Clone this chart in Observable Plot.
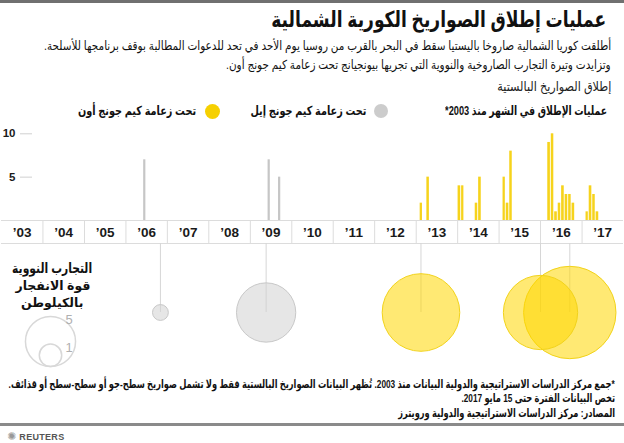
<!DOCTYPE html>
<html><head><meta charset="utf-8">
<script src="https://cdn.jsdelivr.net/npm/d3@7"></script>
<script src="https://cdn.jsdelivr.net/npm/@observablehq/plot@0.6"></script>
<style>
body{margin:0;background:#fff;}
#root{position:relative;width:624px;height:443px;overflow:hidden;font-family:"Liberation Sans","DejaVu Sans",sans-serif;color:#111;}
.t{position:absolute;direction:rtl;white-space:nowrap;}
.abs{position:absolute;}
</style></head><body><div id="root"></div>
<script>
// ---- data ----
const years = [2003,2004,2005,2006,2007,2008,2009,2010,2011,2012,2013,2014,2015,2016,2017];
const yearLabels = ["’03","’04","’05","’06","’07","’08","’09","’10","’11","’12","’13","’14","’15","’16","’17"];
const kimJongIlMonths = ["2006-06","2009-06","2009-09"];
const kimJongIlLaunches = [7,7,5];
const kimJongUnMonths = ["2013-02","2013-04","2014-01","2014-02","2014-06","2014-07","2015-02","2015-03","2015-04","2016-03","2016-04","2016-05","2016-06","2016-07","2016-08","2016-09","2016-10","2017-02","2017-03","2017-04","2017-05"];
const kimJongUnLaunches = [2,5,4,4,2,5,5,2,8,9,10,1,2,4,3,3,2,1,4,3,1];
const testDates = ["2006-11-01","2009-05-20","2013-02-12","2016-01-01","2016-09-15"];
const testYieldsKt = [0.5,7,12,11,17];
const testLeader = ["il","il","un","un","un"];
const legendKt = [5,1];

// ---- styles ----
const YELLOW = "#f6d31c", GRAY = "#c6c6c6";
const FONT = "'Liberation Sans','DejaVu Sans',sans-serif";

const root = document.getElementById("root");
function addText(html, css){ const d=document.createElement("div"); d.className="t"; d.innerHTML=html; Object.assign(d.style, css); root.appendChild(d); return d; }
function addBox(css){ const d=document.createElement("div"); d.className="abs"; Object.assign(d.style, css); root.appendChild(d); return d; }
// squeeze a group of lines horizontally so the first one has the wanted width
function fitGroup(els, target, origin){
  const f = Math.min(1.15, target / els[0].getBoundingClientRect().width);
  els.forEach(el=>{ el.style.transformOrigin = origin || "right center"; el.style.transform = `scaleX(${f})`; });
}
function centerAt(el, cx){ const w = el.getBoundingClientRect().width; el.style.left = (cx - w/2) + "px"; }

addBox({left:"0",top:"0",width:"624px",height:"3px",background:"#707070"});
const title = addText("عمليات إطلاق الصواريخ الكورية الشمالية",{right:"18px",top:"5px",fontSize:"22px",fontWeight:"bold",lineHeight:"30px"});
fitGroup([title], 335);
const sub1 = addText("أطلقت كوريا الشمالية صاروخا باليستيا سقط في البحر بالقرب من روسيا يوم الأحد في تحد للدعوات المطالبة بوقف برنامجها للأسلحة.",{right:"13px",top:"37px",fontSize:"12.5px",lineHeight:"18px"});
const sub2 = addText("وتزايدت وتيرة التجارب الصاروخية والنووية التي تجريها بيونجيانج تحت زعامة كيم جونج أون.",{right:"13px",top:"56px",fontSize:"12.5px",lineHeight:"18px"});
fitGroup([sub1, sub2], 567);
const sec = addText("إطلاق الصواريخ البالستية",{right:"13px",top:"78px",fontSize:"13px",lineHeight:"18px",color:"#222"});
fitGroup([sec], 114);
const lg0 = addText("عمليات الإطلاق في الشهر منذ 2003*",{right:"17px",top:"102px",fontSize:"12.5px",fontWeight:"bold",lineHeight:"18px"});
addBox({left:"374px",top:"104px",width:"14px",height:"14px",borderRadius:"50%",background:"#cccccc"});
const lg1 = addText("تحت زعامة كيم جونج إيل",{right:"258px",top:"102px",fontSize:"12.5px",fontWeight:"bold",lineHeight:"18px"});
addBox({left:"205px",top:"104px",width:"15px",height:"15px",borderRadius:"50%",background:"#f6d000"});
const lg2 = addText("تحت زعامة كيم جونج أون",{right:"428px",top:"102px",fontSize:"12.5px",fontWeight:"bold",lineHeight:"18px"});
fitGroup([lg0], 162);
fitGroup([lg1, lg2], 116);

// ---- launches chart ----
const toBar = (m, n, who) => { const s = d3.utcParse("%Y-%m")(m); return {start:s, end:d3.utcMonth.offset(s,1), n, who}; };
const ilBars = kimJongIlMonths.map((m,i)=>toBar(m,kimJongIlLaunches[i],"il"));
const unBars = kimJongUnMonths.map((m,i)=>toBar(m,kimJongUnLaunches[i],"un"));
const xDomain = [new Date(Date.UTC(years[0],0,1)), new Date(Date.UTC(years[years.length-1]+1,0,1))];
const yearStarts = years.slice(1).map(y=>new Date(Date.UTC(y,0,1)));
const yearMids = years.map(y=>new Date(Date.UTC(y,6,2)));
const xScale = {type:"utc", domain:xDomain, range:[1,623]};

const launches = Plot.plot({
  width:624, height:130, marginLeft:32, marginRight:0, marginTop:0, marginBottom:30,
  x: xScale,
  y: {domain:[0,10], range:[100,13.3]},
  style:{fontFamily:FONT, background:"transparent", overflow:"visible"},
  marks:[
    Plot.ruleY([0],{x1:()=>xDomain[0], x2:()=>xDomain[1], stroke:"#dcdcdc"}),
    Plot.ruleY([0],{x1:()=>xDomain[0], x2:()=>xDomain[1], stroke:"#dcdcdc", dy:23}),
    Plot.rectY(ilBars,{x1:"start", x2:"end", y:"n", fill:GRAY, insetLeft:0.6, insetRight:0.6}),
    Plot.rectY(unBars,{x1:"start", x2:"end", y:"n", fill:YELLOW, insetLeft:0.45, insetRight:0.45}),
    Plot.axisX({ticks:yearStarts, tickSize:23, tickFormat:()=>"", stroke:"#dcdcdc"}),
    Plot.axisX({ticks:yearMids, tickSize:0, tickPadding:7, tickFormat:(d)=>yearLabels[years.indexOf(d.getUTCFullYear())], fontSize:13.5, fontWeight:"bold", fill:"#1a1a1a"}),
    Plot.axisY({ticks:[5,10], tickSize:12, tickPadding:5, stroke:"#d0d0d0", fill:"#1a1a1a", fontSize:11.5, fontWeight:"bold", label:null})
  ]
});
Object.assign(launches.style,{position:"absolute",left:"0px",top:"120px"});
root.appendChild(launches);

// ---- nuclear tests ----
const tests = testDates.map((d,i)=>({date:d3.utcParse("%Y-%m-%d")(d), kt:testYieldsKt[i], who:testLeader[i]}));
const rScale = {type:"sqrt", domain:[0,1], range:[0,11.2]};
const nuclear = Plot.plot({
  width:624, height:138, margin:0,
  x: {...xScale, axis:null}, r: rScale,
  style:{background:"transparent", overflow:"visible"},
  marks:[
    Plot.ruleX(tests,{x:"date", insetBottom:69, stroke:"#d6d6d6"}),
    Plot.dot(tests.filter(d=>d.who==="il"),{x:"date", r:"kt", fill:"#d2d2d2", fillOpacity:0.55, stroke:"#c8c8c8", strokeWidth:1}),
    Plot.dot(tests.filter(d=>d.who==="un"),{x:"date", r:"kt", fill:"#ffd700", fillOpacity:0.55, stroke:"#f2d31a", strokeWidth:1})
  ]
});
Object.assign(nuclear.style,{position:"absolute",left:"0px",top:"243px"});
root.appendChild(nuclear);

const n1 = addText("التجارب النووية",{top:"259px",fontSize:"14px",fontWeight:"bold",lineHeight:"18px"});
const n2 = addText("قوة الانفجار",{top:"278px",fontSize:"12.5px",fontWeight:"bold",lineHeight:"17px"});
const n3 = addText("بالكيلوطن",{top:"295px",fontSize:"12.5px",fontWeight:"bold",lineHeight:"17px"});
centerAt(n1, 52); centerAt(n2, 53); centerAt(n3, 52);
fitGroup([n1], 80, "center");
fitGroup([n2, n3], 54 / n2.getBoundingClientRect().width * n2.getBoundingClientRect().width, "center");
fitGroup([n2], 54, "center"); fitGroup([n3], 45, "center");

const rs = d3.scaleSqrt().domain(rScale.domain).range(rScale.range);
const legend = Plot.plot({
  width:60, height:66, margin:0, r:rScale,
  style:{background:"transparent", overflow:"visible", fontFamily:FONT},
  marks: legendKt.flatMap(v=>[
    Plot.dot([v],{r:d=>d, frameAnchor:"bottom", dy:-rs(v), fill:"none", stroke:"#d8d8d8"}),
    Plot.text([v],{text:d=>String(d), frameAnchor:"bottom", dx:18.5, dy:-2*rs(v)+8, fill:"#b0b0b0", fontSize:13})
  ])
});
Object.assign(legend.style,{position:"absolute",left:"19.5px",top:"300px"});
root.appendChild(legend);

// ---- footer ----
const f1 = addText("*جمع مركز الدراسات الاستراتيجية والدولية البيانات منذ 2003. تُظهر البيانات الصواريخ البالستية فقط ولا تشمل صواريخ سطح-جو أو سطح-سطح أو قذائف.",{right:"9px",top:"377px",fontSize:"11.5px",fontWeight:"bold",lineHeight:"15px"});
const f2 = addText("تخص البيانات الفترة حتى 15 مايو 2017.",{right:"9px",top:"391px",fontSize:"11.5px",fontWeight:"bold",lineHeight:"15px"});
const f3 = addText("المصادر: مركز الدراسات الاستراتيجية والدولية ورويترز",{right:"9px",top:"406px",fontSize:"11.5px",fontWeight:"bold",lineHeight:"15px"});
fitGroup([f1, f2, f3], 606);
addBox({left:"0",top:"423px",width:"624px",height:"3px",background:"#8a8a8a"});
addText("<span style='color:#999;font-size:11px'>✺</span> REUTERS",{left:"7px",top:"429px",fontSize:"9px",fontWeight:"bold",lineHeight:"14px",direction:"ltr",color:"#555",letterSpacing:"0.3px"});
</script>
</body></html>
